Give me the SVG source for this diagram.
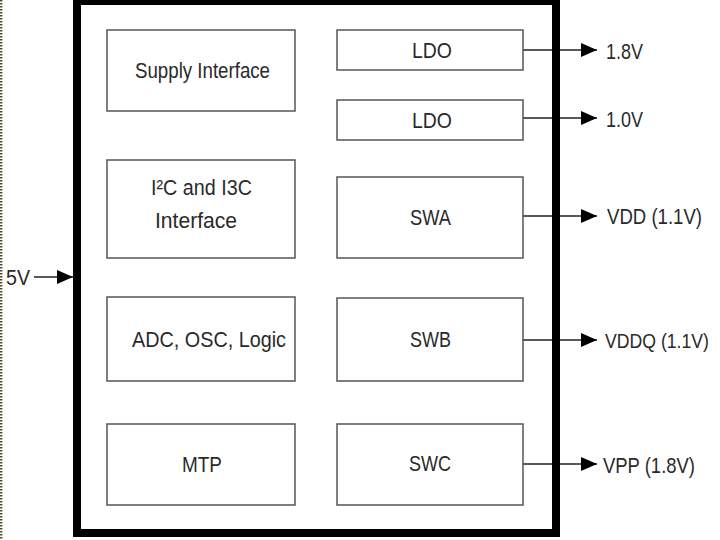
<svg xmlns="http://www.w3.org/2000/svg" width="720" height="540" viewBox="0 0 720 540">
<defs>
<style>
.box{fill:#fff;stroke:#555;stroke-width:1.5}
.t{font-family:"Liberation Sans",Arial,sans-serif;font-size:22px;fill:#2a2a2a}
.c{stroke:#222;stroke-width:1.5;fill:none}
</style>
<marker id="ah" viewBox="0 0 16 14" markerWidth="16" markerHeight="14" refX="16" refY="7" orient="auto" markerUnits="userSpaceOnUse">
<path d="M0,0 L16,7 L0,14 Z" fill="#000"/>
</marker>
</defs>
<rect width="720" height="540" fill="#fff"/>
<line x1="1.2" y1="0" x2="1.2" y2="540" stroke="#4a4a2a" stroke-width="2.4" stroke-dasharray="1.5 1.5"/>
<g id="connectors">
<line class="c" x1="34" y1="277" x2="73" y2="277" marker-end="url(#ah)"/>
<line class="c" x1="523" y1="50" x2="597" y2="50" marker-end="url(#ah)"/>
<line class="c" x1="523" y1="118" x2="597" y2="118" marker-end="url(#ah)"/>
<line class="c" x1="523" y1="216" x2="597" y2="216" marker-end="url(#ah)"/>
<line class="c" x1="523" y1="340" x2="597" y2="340" marker-end="url(#ah)"/>
<line class="c" x1="523" y1="464" x2="597" y2="464" marker-end="url(#ah)"/>
</g>
<g id="chip">
<rect x="77" y="1" width="479" height="532" fill="none" stroke="#000" stroke-width="8"/>
</g>
<g id="supply"><rect class="box" x="107" y="30" width="188" height="81"/><text class="t" x="135" y="78" textLength="135" lengthAdjust="spacingAndGlyphs">Supply Interface</text></g>
<g id="i2c"><rect class="box" x="107" y="160" width="188" height="98"/><text class="t" x="151" y="195" textLength="101" lengthAdjust="spacingAndGlyphs">I²C and I3C</text><text class="t" x="155" y="228" textLength="82" lengthAdjust="spacingAndGlyphs">Interface</text></g>
<g id="adc"><rect class="box" x="107" y="297" width="188" height="84"/><text class="t" x="132" y="347" textLength="154" lengthAdjust="spacingAndGlyphs">ADC, OSC, Logic</text></g>
<g id="mtp"><rect class="box" x="107" y="424" width="188" height="81"/><text class="t" x="182" y="472" textLength="40" lengthAdjust="spacingAndGlyphs">MTP</text></g>
<g id="ldo1"><rect class="box" x="337" y="30" width="186" height="40"/><text class="t" x="412" y="58" textLength="40" lengthAdjust="spacingAndGlyphs">LDO</text></g>
<g id="ldo2"><rect class="box" x="337" y="100" width="186" height="40"/><text class="t" x="412" y="128" textLength="40" lengthAdjust="spacingAndGlyphs">LDO</text></g>
<g id="swa"><rect class="box" x="337" y="177" width="186" height="81"/><text class="t" x="410" y="225" textLength="41" lengthAdjust="spacingAndGlyphs">SWA</text></g>
<g id="swb"><rect class="box" x="337" y="298" width="186" height="83"/><text class="t" x="410" y="347" textLength="41" lengthAdjust="spacingAndGlyphs">SWB</text></g>
<g id="swc"><rect class="box" x="337" y="424" width="186" height="81"/><text class="t" x="409" y="471" textLength="42" lengthAdjust="spacingAndGlyphs">SWC</text></g>
<g id="labels">
<text class="t" x="6" y="285" textLength="24" lengthAdjust="spacingAndGlyphs">5V</text>
<text class="t" x="606" y="59" textLength="37" lengthAdjust="spacingAndGlyphs">1.8V</text>
<text class="t" x="606" y="127" textLength="37" lengthAdjust="spacingAndGlyphs">1.0V</text>
<text class="t" x="607" y="224" textLength="95" lengthAdjust="spacingAndGlyphs">VDD (1.1V)</text>
<text class="t" x="605" y="348" style="font-size:19.5px" textLength="104" lengthAdjust="spacingAndGlyphs">VDDQ (1.1V)</text>
<text class="t" x="603" y="473" textLength="92" lengthAdjust="spacingAndGlyphs">VPP (1.8V)</text>
</g>
</svg>
